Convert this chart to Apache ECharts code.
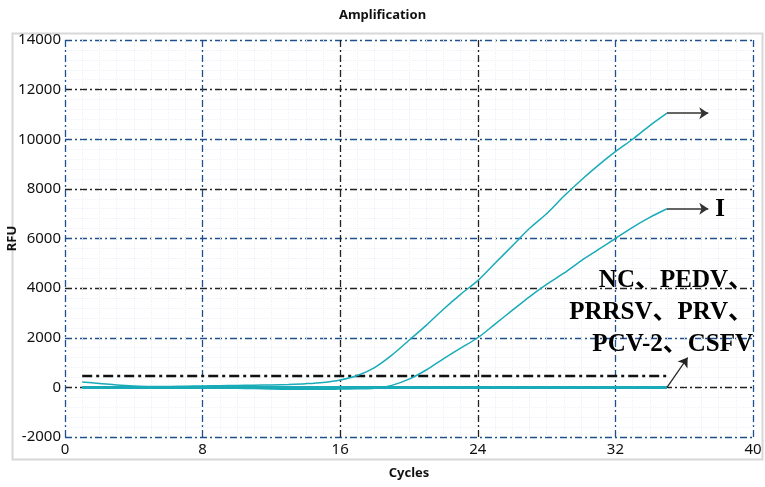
<!DOCTYPE html>
<html>
<head>
<meta charset="utf-8">
<script src="https://cdn.jsdelivr.net/npm/echarts@6/dist/echarts.min.js"></script>
<style>
html, body { margin: 0; padding: 0; background: #fff; }
#chart { width: 765px; height: 487px; }
</style>
</head>
<body>
<div id="chart"></div>
<script>
// 扩增曲线数据
var cycles = [1, 2, 3, 4, 5, 6, 7, 8, 9, 10, 11, 12, 13, 14, 15, 16, 17, 18, 19, 20,
	21, 22, 23, 24, 25, 26, 27, 28, 29, 30, 31, 32, 33, 34, 35];
var curveHigh = [215, 160, 100, 60, 40, 40, 50, 60, 70, 80, 90, 100, 120, 150, 200, 300, 480, 800, 1300, 1900,
	2500, 3150, 3750, 4300, 5000, 5700, 6400, 7000, 7700, 8350, 8950, 9500, 10000, 10550, 11050];
var curveLow = [20, 15, 10, 5, 0, 0, -10, -20, -30, -40, -50, -70, -80, -80, -80, -70, -60, -40, 80, 330,
	700, 1150, 1580, 2000, 2550, 3100, 3650, 4150, 4600, 5100, 5550, 6000, 6450, 6850, 7200];
var curveNeg = [0, 0, 0, 0, 0, 0, 0, 0, 0, 0, 0, 0, 0, 0, 0, 0, 0, 0, 0, 0,
	0, 0, 0, 0, 0, 0, 0, 0, 0, 0, 0, 0, 0, 0, 0];
var threshold = 460;
var yTicks = [-2000, 0, 2000, 4000, 6000, 8000, 10000, 12000, 14000];
var xTicks = [0, 8, 16, 24, 32, 40];
var negLabel = ['NC、PEDV、', 'PRRSV、PRV、', 'PCV-2、CSFV'];

function pairs(ys) {
	return cycles.map(function (c, i) { return [c, ys[i]]; });
}

var teal = '#19abb8';
var dashDot = [7, 3, 2, 3];
var serifBold = { fontFamily: 'Liberation Serif, Noto Sans CJK SC', fontWeight: 'bold', color: '#000' };

var chart = echarts.init(document.getElementById('chart'));
var option = {
	animation: false,
	backgroundColor: '#fff',
	title: {
		text: 'Amplification',
		left: 'center',
		top: 4,
		textStyle: { fontSize: 13, fontWeight: 'bold', color: '#111', fontFamily: 'Noto Sans' }
	},
	graphic: [{
		type: 'rect',
		left: 10, top: 31,
		shape: { width: 750, height: 426 },
		style: { fill: 'none', stroke: '#d8d8d8', lineWidth: 2 },
		z: -1
	}],
	grid: { left: 65, right: 12, top: 40, bottom: 50, containLabel: false, outerBoundsMode: 'none' },
	xAxis: {
		type: 'value',
		min: xTicks[0], max: xTicks[xTicks.length - 1], interval: 8,
		name: 'Cycles', nameLocation: 'middle', nameGap: 30,
		nameTextStyle: { fontSize: 13, fontWeight: 'bold', color: '#111', fontFamily: 'Noto Sans' },
		axisLine: { show: false },
		axisTick: { show: false },
		axisLabel: { fontSize: 15, color: '#111', margin: 5, fontFamily: 'Noto Sans' },
		splitLine: { show: true, lineStyle: { color: ['#1f4f8f', '#1f4f8f', '#222', '#222'], type: dashDot, width: 1.3 } },
		minorTick: { show: false, splitNumber: 8 },
		minorSplitLine: { show: true, lineStyle: { color: '#edf2f8', type: 'dotted', width: 1 } }
	},
	yAxis: {
		type: 'value',
		min: yTicks[0], max: yTicks[yTicks.length - 1], interval: 2000,
		name: 'RFU', nameLocation: 'middle', nameGap: 46, nameRotate: 90, nameMoveOverlap: false,
		nameTextStyle: { fontSize: 13, fontWeight: 'bold', color: '#111', fontFamily: 'Noto Sans' },
		axisLine: { show: false },
		axisTick: { show: false },
		axisLabel: { fontSize: 15, color: '#111', margin: 4, fontFamily: 'Noto Sans',
			formatter: function (v) { return String(v); } },
		splitLine: { show: true, lineStyle: { color: ['#1f4f8f', '#222'], type: dashDot, width: 1.3 } },
		minorTick: { show: false, splitNumber: 5 },
		minorSplitLine: { show: true, lineStyle: { color: '#edf2f8', type: 'dotted', width: 1 } }
	},
	series: [
		{
			name: 'threshold', type: 'line', symbol: 'none',
			data: [[cycles[0], threshold], [cycles[cycles.length - 1], threshold]],
			lineStyle: { color: '#111', width: 2.5, type: [10, 4, 3, 4] },
			z: 3
		},
		{
			name: 'negative', type: 'line', symbol: 'none', smooth: 0.3,
			data: pairs(curveNeg),
			lineStyle: { color: teal, width: 3 },
			markLine: {
				silent: true, symbol: ['none', 'arrow'], symbolSize: 9,
				lineStyle: { color: '#222', width: 1.2, type: 'solid' },
				label: { show: false },
				data: [[{ coord: [35, 0] }, { coord: [36.2, 1200] }]]
			},
			markPoint: {
				symbol: 'circle', symbolSize: 0,
				label: Object.assign({ show: true, fontSize: 25, lineHeight: 32, align: 'right', verticalAlign: 'bottom',
					formatter: negLabel.join('\n') }, serifBold),
				data: [{ coord: [40, 1100] }]
			}
		},
		{
			name: 'I', type: 'line', symbol: 'none', smooth: 0.3,
			data: pairs(curveLow),
			lineStyle: { color: teal, width: 1.5 },
			markLine: {
				silent: true, symbol: ['none', 'arrow'], symbolSize: 9,
				lineStyle: { color: '#333', width: 1.5, type: 'solid' },
				label: { show: false },
				data: [[{ coord: [35, 7200] }, { coord: [37.4, 7200] }]]
			},
			markPoint: {
				symbol: 'circle', symbolSize: 0,
				label: Object.assign({ show: true, fontSize: 25, align: 'left', verticalAlign: 'middle',
					formatter: 'I' }, serifBold),
				data: [{ coord: [37.8, 7150] }]
			}
		},
		{
			name: 'high', type: 'line', symbol: 'none', smooth: 0.3,
			data: pairs(curveHigh),
			lineStyle: { color: teal, width: 1.5 },
			markLine: {
				silent: true, symbol: ['none', 'arrow'], symbolSize: 9,
				lineStyle: { color: '#333', width: 1.5, type: 'solid' },
				label: { show: false },
				data: [[{ coord: [35, 11050] }, { coord: [37.4, 11050] }]]
			}
		}
	]
};
chart.setOption(option);
</script>
</body>
</html>
